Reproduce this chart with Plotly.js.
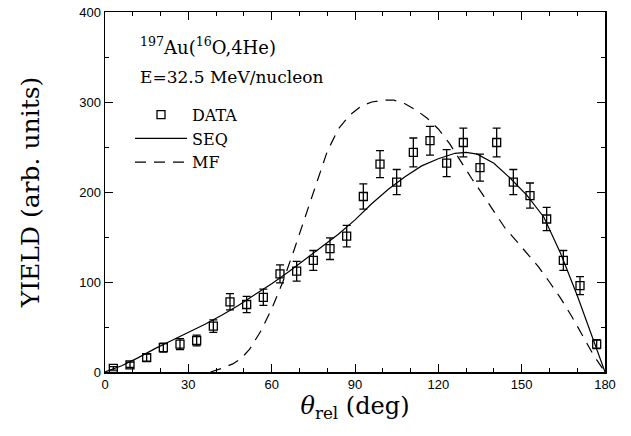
<!DOCTYPE html>
<html>
<head>
<meta charset="utf-8">
<script src="https://cdn.plot.ly/plotly-3.0.1.min.js"></script>
<style>html,body{margin:0;padding:0;background:#fff;}#chart{width:631px;height:436px;}</style>
</head>
<body>
<div id="chart"></div>
<script>
// Data points (theta_rel in deg, yield, error)
var dataTheta = [3, 9, 15, 21, 27, 33, 39, 45, 51, 57, 63, 69, 75, 81, 87, 93, 99, 105, 111, 117, 123, 129, 135, 141, 147, 153, 159, 165, 171, 177];
var dataYield = [4, 8, 16, 27, 31, 35, 51, 78, 75, 83, 109, 112, 124, 137, 151, 195, 231, 211, 244, 257, 232, 255, 227, 255, 211, 196, 170, 124, 96, 31];
var dataErr   = [2, 3, 4, 5, 6, 6, 7, 9, 9, 9, 10, 11, 11, 12, 12, 14, 15, 14, 16, 16, 15, 16, 15, 16, 14, 14, 13, 11, 10, 5];

// SEQ model (solid)
var seqTheta = [0, 6, 12, 18, 24, 30, 36, 42, 48, 54, 60, 66, 72, 78, 84, 90, 96, 102, 108, 114, 120, 126, 130, 134, 140, 146, 152, 158, 164, 170, 176, 180];
var seqYield = [0, 7, 16, 26, 35, 44, 53, 63, 74, 86, 98, 111, 125, 139, 153, 169, 187, 203, 217, 229, 237, 243, 244, 242, 232, 215, 196, 172, 132, 85, 35, 0];

// MF model (dashed)
var mfTheta = [38, 42, 46, 49, 52, 56, 60, 64, 68, 72, 76, 80, 84, 88, 92, 96, 100, 104, 108, 112, 116, 120, 124, 128, 132, 136, 140, 144, 148, 152, 156, 160, 164, 168, 172, 176, 180];
var mfYield = [0, 4, 9, 15, 25, 45, 70, 100, 135, 172, 210, 245, 270, 285, 295, 300, 302, 302, 298, 291, 282, 270, 254, 234, 215, 197, 178, 160, 146, 132, 117, 100, 82, 62, 40, 18, 0];

var xTicks = [0, 30, 60, 90, 120, 150, 180];
var yTicks = [0, 100, 200, 300, 400];

var serif = "DejaVu Serif, serif";
var sans = "Liberation Sans, Arial, sans-serif";

var traces = [
  {x: dataTheta, y: dataYield, mode: 'markers', name: 'DATA',
   marker: {symbol: 'square-open', size: 8, color: '#000', line: {width: 1.3, color: '#000'}},
   error_y: {type: 'data', array: dataErr, visible: true, color: '#000', thickness: 1.3, width: 4}},
  {x: seqTheta, y: seqYield, mode: 'lines', name: 'SEQ',
   line: {color: '#000', width: 1.2, dash: 'solid'}, hoverinfo: 'skip'},
  {x: mfTheta, y: mfYield, mode: 'lines', name: 'MF',
   line: {color: '#000', width: 1.2, dash: '11px,8px'}, hoverinfo: 'skip'}
];

var layout = {
  width: 631, height: 436,
  margin: {l: 105, r: 26, t: 12, b: 64},
  paper_bgcolor: '#fff', plot_bgcolor: '#fff',
  showlegend: true,
  legend: {x: 0.05, y: 0.762, xanchor: 'left', yanchor: 'top', traceorder: 'normal',
           font: {family: serif, size: 16, color: '#000'}, bgcolor: 'rgba(0,0,0,0)',
           itemwidth: 52, tracegroupgap: 0},
  xaxis: {range: [0, 180], tickvals: xTicks, ticktext: xTicks.map(String),
          ticks: 'inside', ticklen: 8, tickwidth: 1, tickcolor: '#000',
          minor: {dtick: 10, ticks: 'inside', ticklen: 4, tickcolor: '#000', showgrid: false},
          showline: true, linecolor: '#000', linewidth: 1.5, mirror: 'ticks',
          showgrid: false, zeroline: false,
          tickfont: {family: sans, size: 13, color: '#000'},
          title: {text: '<i>θ</i><sub>rel</sub> (deg)', font: {family: serif, size: 24, color: '#000'}, standoff: 4}},
  yaxis: {range: [0, 400], tickvals: yTicks, ticktext: yTicks.map(String),
          ticks: 'inside', ticklen: 8, tickwidth: 1, tickcolor: '#000',
          minor: {dtick: 50, ticks: 'inside', ticklen: 4, tickcolor: '#000', showgrid: false},
          showline: true, linecolor: '#000', linewidth: 1.5, mirror: 'ticks',
          showgrid: false, zeroline: false,
          tickfont: {family: sans, size: 13, color: '#000'},
          title: {text: 'YIELD (arb. units)', font: {family: serif, size: 25, color: '#000'}, standoff: 32}},
  annotations: [
    {xref: 'paper', yref: 'paper', x: 0.065, y: 0.905, xanchor: 'left', yanchor: 'middle', showarrow: false,
     text: '<sup>197</sup>Au(<sup>16</sup>O,4He)', font: {family: serif, size: 18, color: '#000'}},
    {xref: 'paper', yref: 'paper', x: 0.065, y: 0.82, xanchor: 'left', yanchor: 'middle', showarrow: false,
     text: 'E=32.5 MeV/nucleon', font: {family: serif, size: 17, color: '#000'}}
  ]
};

Plotly.newPlot('chart', traces, layout, {staticPlot: true, displayModeBar: false});
</script>
</body>
</html>
